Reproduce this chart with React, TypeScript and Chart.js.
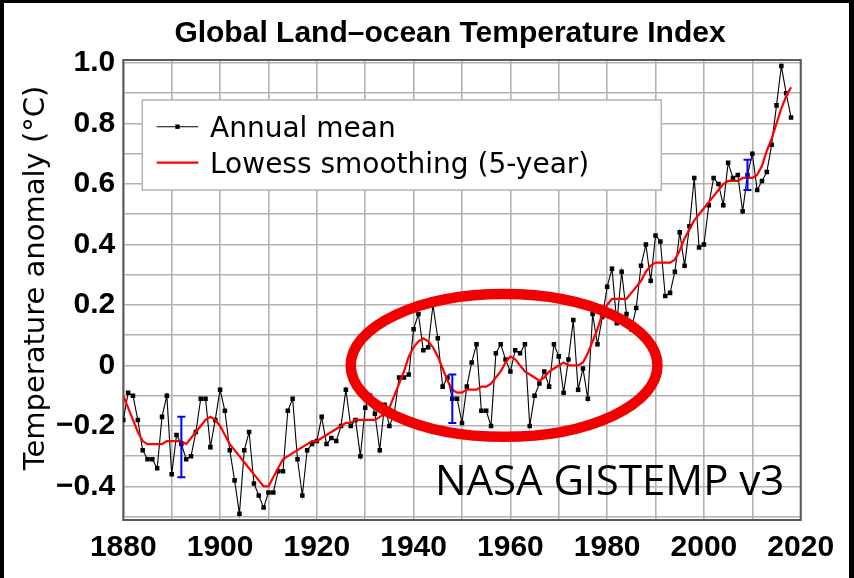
import React, { useEffect, useRef } from "react";
import { Chart, registerables } from "chart.js";

Chart.register(...registerables);

const years = [
  1880, 1881, 1882, 1883, 1884, 1885, 1886, 1887, 1888, 1889,
  1890, 1891, 1892, 1893, 1894, 1895, 1896, 1897, 1898, 1899,
  1900, 1901, 1902, 1903, 1904, 1905, 1906, 1907, 1908, 1909,
  1910, 1911, 1912, 1913, 1914, 1915, 1916, 1917, 1918, 1919,
  1920, 1921, 1922, 1923, 1924, 1925, 1926, 1927, 1928, 1929,
  1930, 1931, 1932, 1933, 1934, 1935, 1936, 1937, 1938, 1939,
  1940, 1941, 1942, 1943, 1944, 1945, 1946, 1947, 1948, 1949,
  1950, 1951, 1952, 1953, 1954, 1955, 1956, 1957, 1958, 1959,
  1960, 1961, 1962, 1963, 1964, 1965, 1966, 1967, 1968, 1969,
  1970, 1971, 1972, 1973, 1974, 1975, 1976, 1977, 1978, 1979,
  1980, 1981, 1982, 1983, 1984, 1985, 1986, 1987, 1988, 1989,
  1990, 1991, 1992, 1993, 1994, 1995, 1996, 1997, 1998, 1999,
  2000, 2001, 2002, 2003, 2004, 2005, 2006, 2007, 2008, 2009,
  2010, 2011, 2012, 2013, 2014, 2015, 2016, 2017, 2018,
];

const annualMean = [
  -0.18, -0.09, -0.10, -0.18, -0.28, -0.31, -0.31, -0.34, -0.17, -0.10,
  -0.36, -0.23, -0.26, -0.31, -0.30, -0.22, -0.11, -0.11, -0.27, -0.18,
  -0.08, -0.15, -0.28, -0.38, -0.49, -0.28, -0.22, -0.39, -0.43, -0.47,
  -0.42, -0.42, -0.35, -0.35, -0.15, -0.11, -0.31, -0.43, -0.28, -0.26,
  -0.25, -0.17, -0.26, -0.24, -0.25, -0.20, -0.08, -0.20, -0.18, -0.30,
  -0.14, -0.10, -0.16, -0.28, -0.13, -0.20, -0.16, -0.04, -0.04, -0.03,
  0.12, 0.17, 0.05, 0.06, 0.20, 0.09, -0.07, -0.04, -0.11, -0.11,
  -0.19, -0.07, 0.01, 0.07, -0.15, -0.15, -0.20, 0.04, 0.07, 0.02,
  -0.02, 0.05, 0.04, 0.07, -0.20, -0.10, -0.06, -0.02, -0.07, 0.07,
  0.03, -0.09, 0.02, 0.15, -0.08, -0.01, -0.11, 0.17, 0.07, 0.16,
  0.26, 0.32, 0.14, 0.31, 0.17, 0.12, 0.19, 0.33, 0.40, 0.28,
  0.43, 0.41, 0.23, 0.24, 0.31, 0.44, 0.33, 0.46, 0.62, 0.39,
  0.40, 0.53, 0.62, 0.60, 0.53, 0.67, 0.62, 0.63, 0.51, 0.63,
  0.70, 0.58, 0.61, 0.64, 0.73, 0.86, 0.99, 0.90, 0.82,
];

const lowess5 = [
  -0.10, -0.14, -0.18, -0.22, -0.25, -0.26, -0.26, -0.26, -0.26, -0.25,
  -0.25, -0.25, -0.25, -0.26, -0.24, -0.22, -0.20, -0.18, -0.17, -0.18,
  -0.20, -0.23, -0.26, -0.28, -0.30, -0.32, -0.34, -0.36, -0.38, -0.40,
  -0.40, -0.37, -0.34, -0.31, -0.30, -0.29, -0.28, -0.27, -0.26, -0.25,
  -0.25, -0.24, -0.23, -0.22, -0.21, -0.20, -0.19, -0.19, -0.18, -0.18,
  -0.18, -0.18, -0.18, -0.17, -0.16, -0.14, -0.10, -0.06, -0.02, 0.03,
  0.06, 0.08, 0.09, 0.08, 0.06, 0.03, -0.01, -0.05, -0.08, -0.09,
  -0.09, -0.08, -0.08, -0.08, -0.07, -0.07, -0.06, -0.04, -0.02, 0.01,
  0.03, 0.02, 0.00, -0.02, -0.03, -0.04, -0.05, -0.04, -0.02, -0.01,
  0.00, 0.01, 0.00, 0.00, 0.00, 0.01, 0.04, 0.08, 0.12, 0.17,
  0.20, 0.22, 0.22, 0.22, 0.22, 0.24, 0.26, 0.28, 0.31, 0.33,
  0.34, 0.34, 0.34, 0.34, 0.35, 0.38, 0.42, 0.45, 0.48, 0.50,
  0.52, 0.54, 0.56, 0.58, 0.60, 0.61, 0.61, 0.61, 0.62, 0.62,
  0.62, 0.63, 0.66, 0.71, 0.75, 0.80, 0.85, 0.89, 0.92,
];

const errorYears = [1892, 1948, 2009];
const errorLow = [-0.37, -0.19, 0.58];
const errorHigh = [-0.17, -0.03, 0.68];

const xGridYears = [1880, 1890, 1900, 1910, 1920, 1930, 1940, 1950, 1960, 1970, 1980, 1990, 2000, 2010, 2020];
const xLabelYears = [1880, 1900, 1920, 1940, 1960, 1980, 2000, 2020];
const yGridValues = [-0.5, -0.4, -0.3, -0.2, -0.1, 0, 0.1, 0.2, 0.3, 0.4, 0.5, 0.6, 0.7, 0.8, 0.9, 1.0];
const yLabelValues = [-0.4, -0.2, 0, 0.2, 0.4, 0.6, 0.8, 1.0];
const yLabelTexts = ["\u22120.4", "\u22120.2", "0", "0.2", "0.4", "0.6", "0.8", "1.0"];

const titleText = "Global Land\u2013ocean Temperature Index";
const yAxisTitle = "Temperature anomaly (\u00B0C)";
const seriesNames = ["Annual mean", "Lowess smoothing (5-year)"];
const sourceNote = "NASA GISTEMP v3";

// highlighted period (ellipse annotation), in data units
const highlightCenter = [1958.7, 0.0];
const highlightHalfSize = [31.7, 0.236];
// where the source note starts (data units)
const notePosition = [1944.4, -0.428];

const SANS = "'Liberation Sans', Arial, sans-serif";
const DEJAVU = "'DejaVu Sans', sans-serif";
const GRID = "#b2b2b2";

const overlayPlugin = {
  id: "overlays",
  beforeDatasetsDraw(chart: any) {
    const { ctx, chartArea: ca } = chart;
    ctx.save();
    ctx.strokeStyle = "#5a5a5a";
    ctx.lineWidth = 2;
    ctx.strokeRect(ca.left, ca.top, ca.right - ca.left, ca.bottom - ca.top);
    ctx.restore();
  },
  afterDatasetsDraw(chart: any) {
    const { ctx, chartArea: ca } = chart;
    const xs = chart.scales.x;
    const ys = chart.scales.y;
    ctx.save();
    // error bars
    ctx.strokeStyle = "#0000ff";
    ctx.lineWidth = 2;
    errorYears.forEach((yr, i) => {
      const px = xs.getPixelForValue(yr);
      const p1 = ys.getPixelForValue(errorLow[i]);
      const p2 = ys.getPixelForValue(errorHigh[i]);
      ctx.beginPath();
      ctx.moveTo(px, p1);
      ctx.lineTo(px, p2);
      ctx.moveTo(px - 4, p1);
      ctx.lineTo(px + 4, p1);
      ctx.moveTo(px - 4, p2);
      ctx.lineTo(px + 4, p2);
      ctx.stroke();
    });

    // legend box
    const bx = ca.left + 19;
    const by = ca.top + 40;
    const bw = 519;
    const bh = 90;
    ctx.fillStyle = "#ffffff";
    ctx.fillRect(bx, by, bw, bh);
    ctx.strokeStyle = "#b4b4b4";
    ctx.lineWidth = 1.5;
    ctx.strokeRect(bx, by, bw, bh);
    const ds = chart.data.datasets;
    const rows = [
      { ds: ds[1], lineY: by + 26.7, textY: by + 36.7, marker: true },
      { ds: ds[0], lineY: by + 62.7, textY: by + 73, marker: false },
    ];
    rows.forEach((r) => {
      ctx.strokeStyle = r.ds.borderColor;
      ctx.lineWidth = r.ds.borderWidth;
      ctx.beginPath();
      ctx.moveTo(bx + 14.4, r.lineY);
      ctx.lineTo(bx + 56, r.lineY);
      ctx.stroke();
      if (r.marker) {
        ctx.fillStyle = "#000";
        ctx.fillRect(bx + 35.2 - 2.2, r.lineY - 2.2, 4.4, 4.4);
      }
      ctx.fillStyle = "#000";
      ctx.font = `28px ${DEJAVU}`;
      ctx.textAlign = "left";
      ctx.textBaseline = "alphabetic";
      ctx.fillText(r.ds.label, bx + 67.7, r.textY);
    });

    // source note
    ctx.font = "42px 'Open Sans', 'Noto Sans', sans-serif";
    ctx.fillStyle = "#000";
    ctx.textAlign = "left";
    ctx.textBaseline = "alphabetic";
    ctx.fillText(sourceNote, xs.getPixelForValue(notePosition[0]), ys.getPixelForValue(notePosition[1]));

    // ellipse highlight
    const cx = xs.getPixelForValue(highlightCenter[0]);
    const cy = ys.getPixelForValue(highlightCenter[1]);
    const rx = Math.abs(xs.getPixelForValue(highlightCenter[0] + highlightHalfSize[0]) - cx);
    const ry = Math.abs(ys.getPixelForValue(highlightCenter[1] + highlightHalfSize[1]) - cy);
    ctx.strokeStyle = "#f20000";
    ctx.lineWidth = 10.5;
    ctx.beginPath();
    ctx.ellipse(cx, cy, rx, ry, 0, 0, Math.PI * 2);
    ctx.stroke();
    ctx.restore();
  },
  afterDraw(chart: any) {
    const { ctx, chartArea: ca } = chart;
    ctx.save();
    ctx.fillStyle = "#000";
    ctx.font = `bold 30px ${SANS}`;
    ctx.textAlign = "center";
    ctx.textBaseline = "alphabetic";
    ctx.fillText(titleText, ca.left + 326.7, ca.top - 18.3);

    ctx.translate(32.5, ca.top + 218);
    ctx.rotate(-Math.PI / 2);
    ctx.font = `29px ${DEJAVU}`;
    ctx.textAlign = "center";
    ctx.textBaseline = "middle";
    ctx.fillText(yAxisTitle, 0, 0);
    ctx.restore();
  },
};

export default function App() {
  const ref = useRef<HTMLCanvasElement | null>(null);

  useEffect(() => {
    document.body.style.margin = "0";
    const canvas = ref.current;
    if (!canvas) return;
    const chart = new Chart(canvas, {
      type: "line",
      data: {
        datasets: [
          {
            label: seriesNames[1],
            data: years.map((y, i) => ({ x: y, y: lowess5[i] })),
            borderColor: "#ff0000",
            borderWidth: 2.2,
            pointRadius: 0,
            tension: 0,
          },
          {
            label: seriesNames[0],
            data: years.map((y, i) => ({ x: y, y: annualMean[i] })),
            borderColor: "#000000",
            borderWidth: 1.1,
            pointStyle: "rect",
            pointRadius: 3.2,
            pointBackgroundColor: "#000000",
            pointBorderWidth: 0,
            tension: 0,
          },
        ],
      },
      options: {
        animation: false,
        responsive: false,
        layout: { padding: { top: 57, right: 48.3, left: 0, bottom: 0 } },
        plugins: {
          legend: { display: false },
          tooltip: { enabled: false },
          title: { display: false },
        },
        scales: {
          x: {
            type: "linear",
            min: 1880,
            max: 2020,
            afterBuildTicks: (s: any) => {
              s.ticks = xGridYears.map((v) => ({ value: v }));
            },
            afterFit: (s: any) => {
              s.height = 58;
            },
            ticks: {
              autoSkip: false,
              maxRotation: 0,
              padding: 10,
              color: "#000",
              font: { family: SANS, size: 30, weight: "bold" },
              callback: (v: any) => (xLabelYears.includes(Number(v)) ? String(v) : ""),
            },
            grid: { color: GRID, lineWidth: 1.6, drawTicks: false },
            border: { display: false },
          },
          y: {
            type: "linear",
            min: -0.511,
            max: 1.01,
            afterBuildTicks: (s: any) => {
              s.ticks = yGridValues.map((v) => ({ value: v }));
            },
            afterFit: (s: any) => {
              s.width = 119.3;
            },
            ticks: {
              autoSkip: false,
              padding: 8,
              color: "#000",
              font: { family: SANS, size: 30, weight: "bold" },
              callback: (v: any) => {
                const idx = yLabelValues.findIndex((lv) => Math.abs(lv - Number(v)) < 1e-6);
                return idx >= 0 ? yLabelTexts[idx] : "";
              },
            },
            grid: { color: GRID, lineWidth: 1.6, drawTicks: false },
            border: { display: false },
          },
        },
      },
      plugins: [overlayPlugin],
    } as any);
    return () => chart.destroy();
  }, []);

  return (
    <div style={{ position: "absolute", left: 0, top: 0, width: 854, height: 578, background: "#000" }}>
      <div style={{ position: "absolute", left: 4, top: 3, width: 845, height: 575, background: "#fff" }}>
        <canvas ref={ref} width={845} height={575} style={{ display: "block", width: 845, height: 575 }} />
      </div>
    </div>
  );
}
